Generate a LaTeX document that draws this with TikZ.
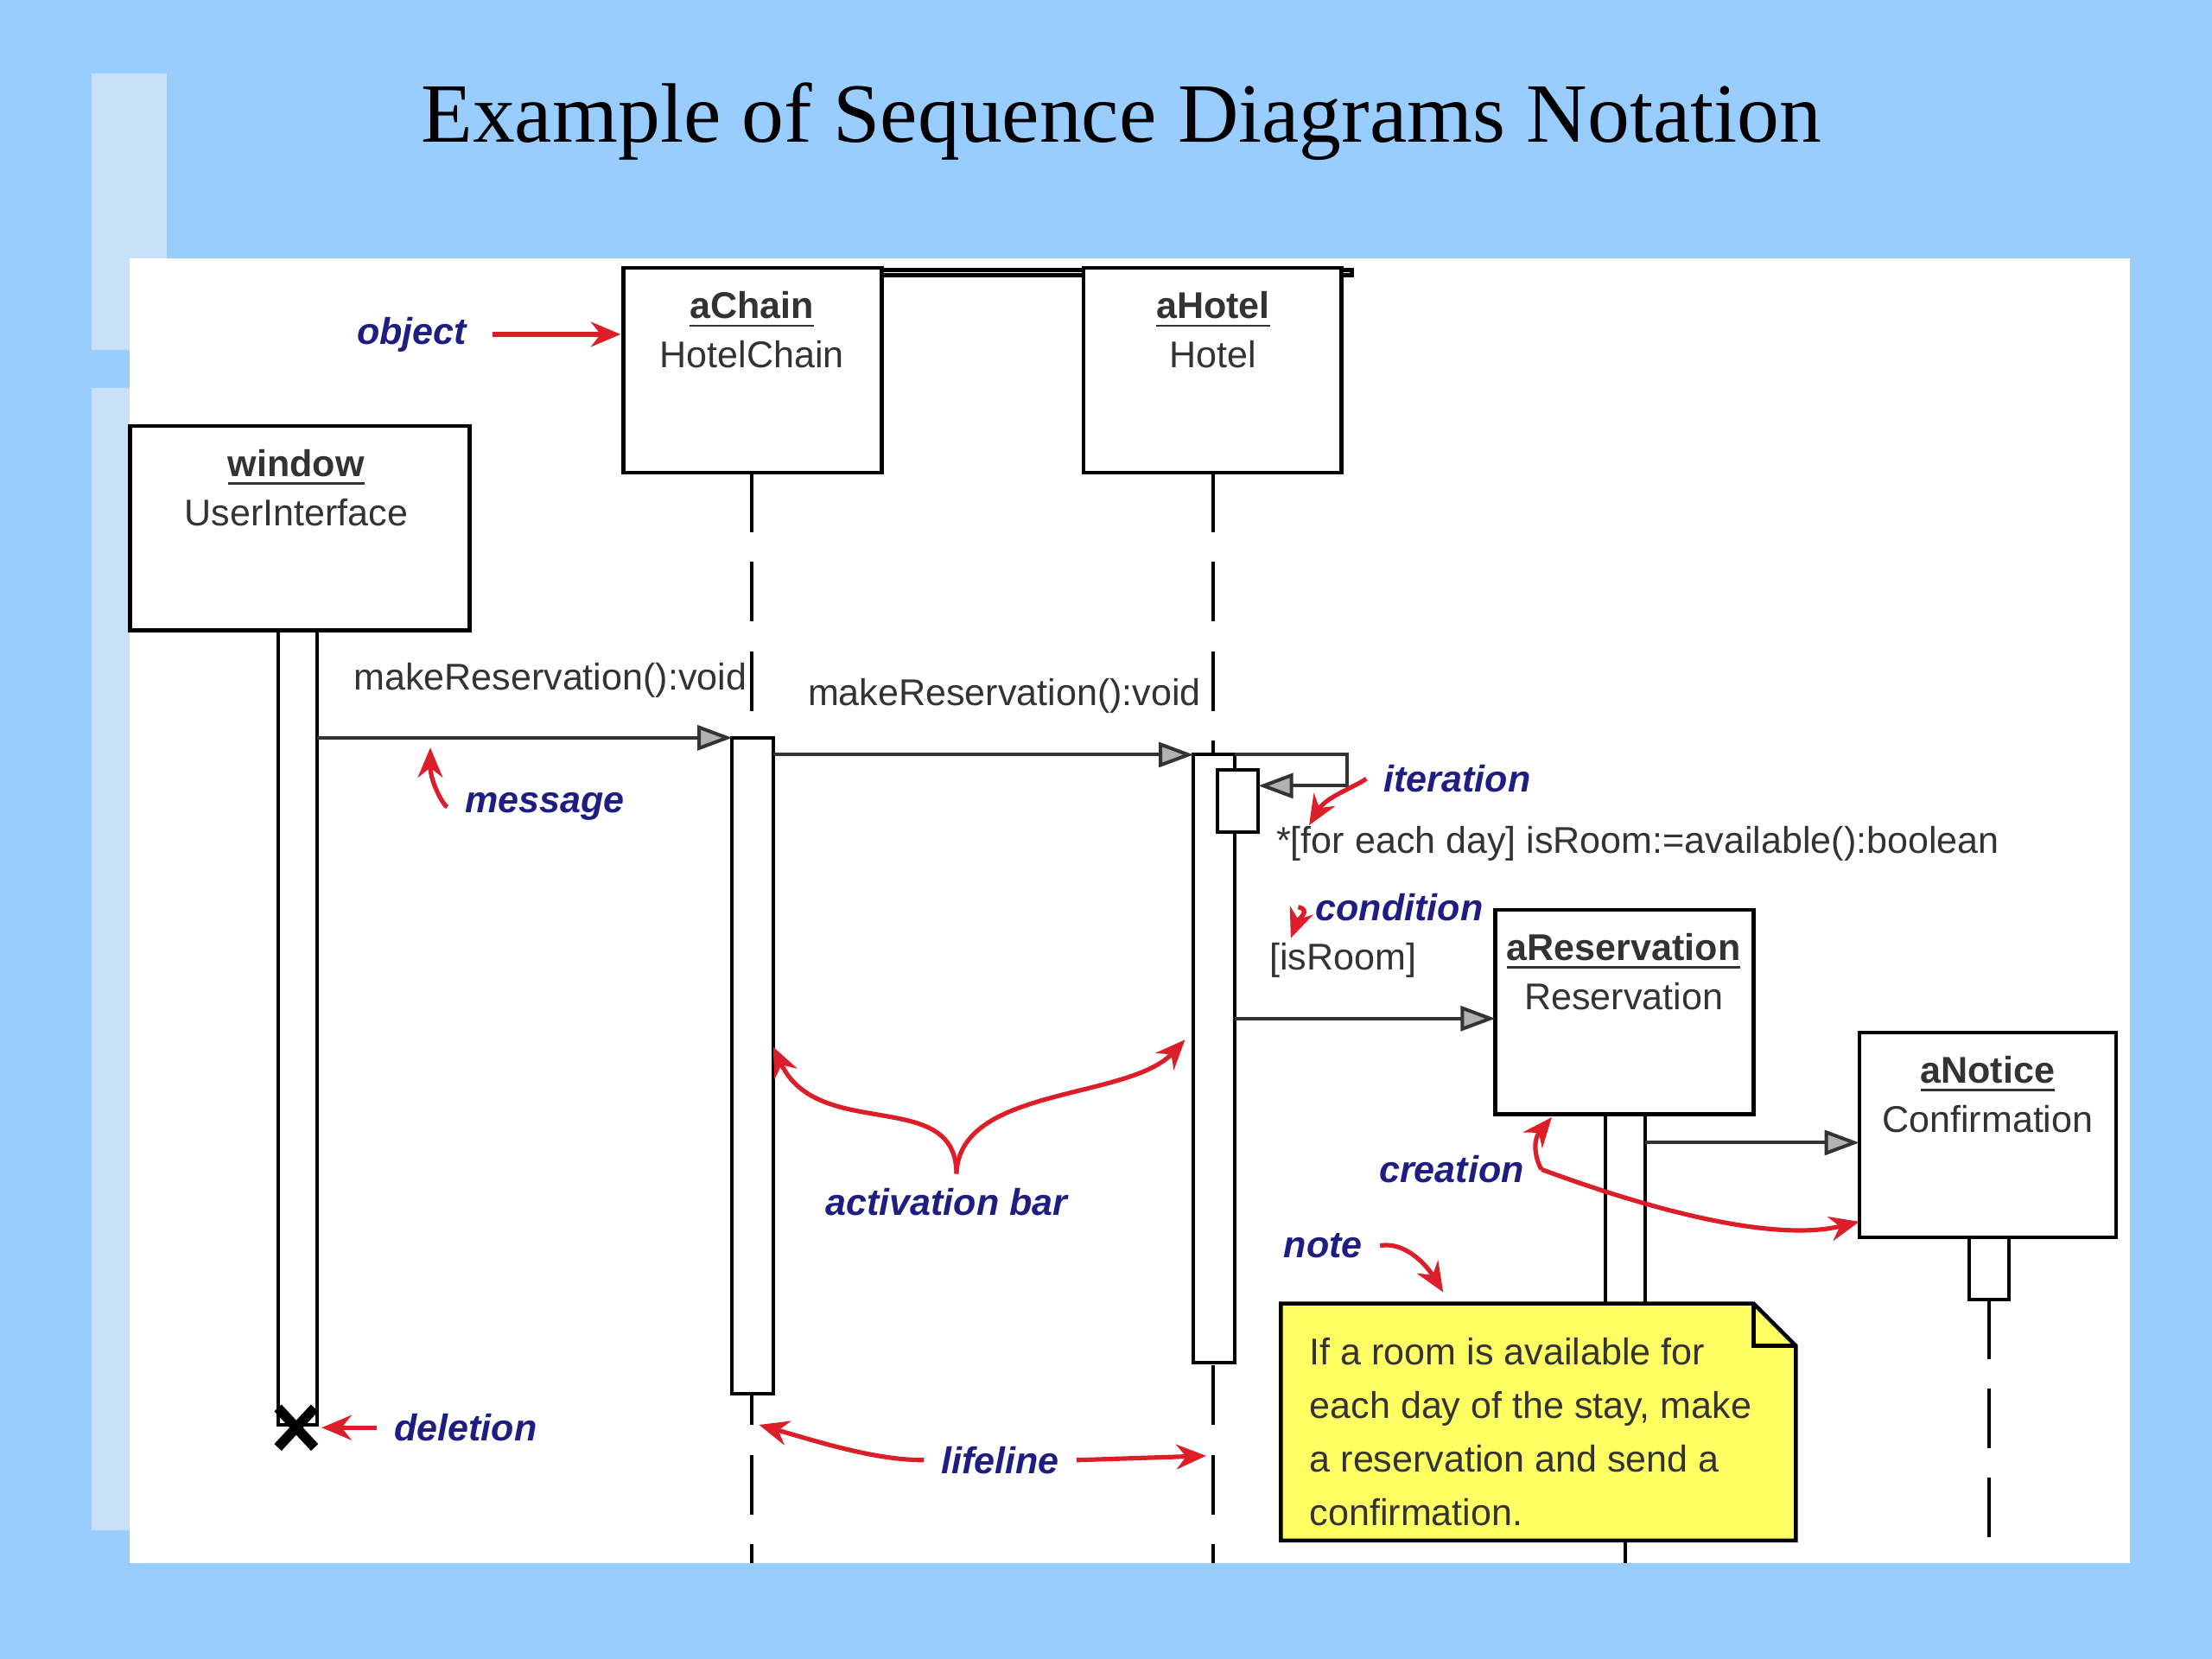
\documentclass[tikz,border=0pt]{standalone}
\usepackage{fontspec}
\setmainfont{Liberation Serif}
\setsansfont{Liberation Sans}
\usetikzlibrary{arrows.meta}
\definecolor{bg}{RGB}{153,204,255}
\definecolor{panel}{RGB}{200,224,248}
\definecolor{navy}{RGB}{30,30,130}
\definecolor{ared}{RGB}{220,30,40}
\definecolor{noteY}{RGB}{255,255,100}
\tikzset{
  obj/.style={draw,line width=0.8pt,fill=white},
  bar/.style={draw,line width=0.7pt,fill=white},
  life/.style={dashed,line width=0.7pt,dash pattern=on 12pt off 6pt},
  msg/.style={line width=0.7pt,draw=black!80,-{Triangle[length=7pt,width=5pt,fill=gray!60]}},
  ann/.style={font=\sffamily\itshape\bfseries\fontsize{7.5}{9}\selectfont,text=navy},
  red/.style={ared,line width=0.9pt,-{Stealth[length=6pt,width=5pt]}},
  txt/.style={font=\sffamily\fontsize{7.5}{9}\selectfont,text=black!80},
}
\newcommand{\objtext}[2]{\underline{\textbf{#1}}\\[1pt]#2}
\begin{document}
\begin{tikzpicture}[x=0.01cm,y=-0.01cm]
\useasboundingbox (0,0) rectangle (1568,1176);
\fill[bg] (0,0) rectangle (1568,1176);
\fill[panel] (65,52) rectangle (118,248);
\fill[panel] (65,275) rectangle (92,1085);
\fill[white] (92,183) rectangle (1510,1108);
\node[font=\fontsize{17}{20}\selectfont] (title) at (795,86) {Example of Sequence Diagrams Notation};

% lifelines
\draw[life] (533,335) -- (533,1108);
\draw[life] (860,335) -- (860,1108);
\draw[life] (1410,921) -- (1410,1108);
\draw[line width=0.7pt] (1152,1092) -- (1152,1108);

% objects
\node[obj,minimum width=183\pgflinewidth,anchor=north west,inner sep=0] (chain) at (442,190) {};
\draw[obj] (442,190) rectangle (625,335);
\draw[obj] (768,190) rectangle (951,335);
\draw[obj] (92,302) rectangle (333,447);
\draw[obj] (1060,645) rectangle (1243,790);
\draw[obj] (1318,732) rectangle (1500,877);
\node[txt,align=center,anchor=north] (tchain) at (533,194) {\objtext{aChain}{HotelChain}};
\node[txt,align=center,anchor=north] (thotel) at (860,194) {\objtext{aHotel}{Hotel}};
\node[txt,align=center,anchor=north] (twin) at (210,306) {\objtext{window}{UserInterface}};
\node[txt,align=center,anchor=north] (tres) at (1151,649) {\objtext{aReservation}{Reservation}};
\node[txt,align=center,anchor=north] (tnot) at (1409,736) {\objtext{aNotice}{Confirmation}};

% activation bars
\draw[bar] (197,447) rectangle (225,1010);
\draw[bar] (519,523) rectangle (548,988);
\draw[bar] (846,535) rectangle (875,966);
\draw[bar] (863,546) rectangle (892,590);
\draw[bar] (1138,790) rectangle (1166,930);
\draw[bar] (1396,877) rectangle (1424,921);
\draw[line width=2pt] (197,998) -- (223,1026) (197,1026) -- (223,998);

% messages
\coordinate (m1a) at (225,523); \coordinate (m1b) at (519,523);
\draw[msg] (m1a) -- (m1b);
\node[txt] at (390,482) {makeReservation():void};
\coordinate (m2a) at (548,535); \coordinate (m2b) at (846,535);
\draw[msg] (m2a) -- (m2b);
\node[txt] at (712,493) {makeReservation():void};
\coordinate (m3a) at (875,535); \coordinate (m3b) at (892,557);
\draw[msg] (m3a) -- (955,535) -- (955,557) -- (m3b);
\node[txt] at (1161,598) {*[for each day] isRoom:=available():boolean};
\node[txt] at (952,681) {[isRoom]};
\coordinate (m4a) at (875,722); \coordinate (m4b) at (1060,722);
\draw[msg] (m4a) -- (m4b);
\coordinate (m5a) at (1166,810); \coordinate (m5b) at (1318,810);
\draw[msg] (m5a) -- (m5b);

% note
\draw[line width=0.8pt,fill=noteY] (908,924) -- (1243,924) -- (1273,954) -- (1273,1092) -- (908,1092) -- cycle;
\draw[line width=0.8pt] (1243,924) -- (1243,954) -- (1273,954);
\node[txt,align=left,anchor=north west,font=\sffamily\fontsize{7.5}{10.8}\selectfont] (note) at (916,936) {If a room is available for\\each day of the stay, make\\a reservation and send a\\confirmation.};

% annotations
\node[ann] (aobj) at (292,237) {object};
\draw[red] (aobj.east) ++(6,0) -- (440,237);
\node[ann] (amsg) at (386,572) {message};
\draw[red] (amsg.west) .. controls (315,572) and (305,555) .. (305,530);
\node[ann] (aitr) at (1033,552) {iteration};
\draw[red] (aitr.west) .. controls (960,558) and (940,565) .. (928,585);
\node[ann] (acond) at (992,643) {condition};
\draw[red] (acond.west) .. controls (930,645) and (920,652) .. (915,665);
\node[ann] (aact) at (671,852) {activation bar};
\draw[red] (678,832) .. controls (678,770) and (580,810) .. (548,742);
\draw[red] (678,832) .. controls (680,770) and (800,780) .. (840,737);
\node[ann] (acre) at (1029,829) {creation};
\draw[red] (acre.east) .. controls (1090,825) and (1085,810) .. (1100,792);
\draw[red] (acre.east) .. controls (1110,835) and (1240,885) .. (1318,866);
\node[ann] (anote) at (938,883) {note};
\draw[red] (anote.east) .. controls (995,880) and (1010,895) .. (1023,916);
\node[ann] (adel) at (330,1012) {deletion};
\draw[red] (adel.west) -- (228,1012);
\node[ann] (alife) at (709,1035) {lifeline};
\draw[red] (alife.west) .. controls (620,1035) and (580,1022) .. (538,1010);
\draw[red] (alife.east) -- (855,1032);
\end{tikzpicture}
\end{document}
